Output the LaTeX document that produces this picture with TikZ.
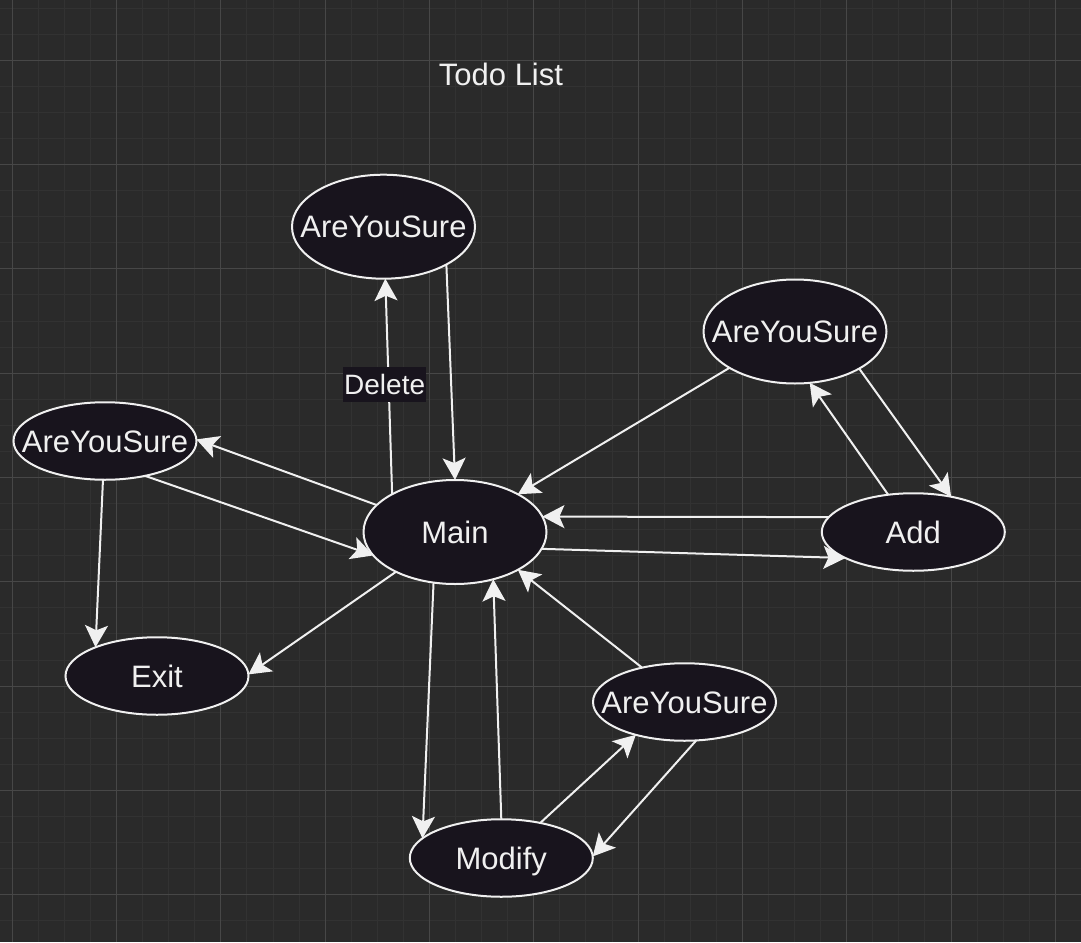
\documentclass[tikz,border=0pt]{standalone}
\usepackage{fontspec}
\setmainfont{Liberation Sans}
\usetikzlibrary{arrows.meta,shapes.geometric}
\definecolor{bg}{HTML}{2A2A2A}
\definecolor{gminor}{HTML}{323232}
\definecolor{gmajor}{HTML}{474747}
\definecolor{nfill}{HTML}{18141D}
\definecolor{fg}{HTML}{F0F0F0}
\newcommand\lbltxt[1]{\makebox[0pt]{#1}}
\begin{document}
\begin{tikzpicture}[x=1pt,y=-1pt,
  stnode/.style={ellipse, draw=fg, line width=2pt, fill=nfill, text=fg,
    inner sep=0pt, outer sep=0pt, font=\fontsize{31}{37}\selectfont,
    text height=22pt, text depth=0pt, minimum width=183pt},
  tallnode/.style={minimum height=104pt},
  shortnode/.style={minimum height=77.5pt},
  conn/.style={draw=fg, line width=2pt, -{Stealth[length=22pt,width=23pt,inset=5pt]}},
  edgelbl/.style={fill=nfill, text=fg, inner sep=0pt, minimum width=83pt,
    minimum height=35pt, font=\fontsize{28}{34}\selectfont, text height=20pt, text depth=0pt},
  minorline/.style={draw=gminor, line width=1pt},
  majorline/.style={draw=gmajor, line width=1pt}]
\useasboundingbox (0,0) rectangle (1081,942);
\fill[bg] (0,0) rectangle (1081,942);
% grid
\foreach \i in {-1,...,41} \draw[minorline] ({12.3+\i*26.075},0) -- ({12.3+\i*26.075},942);
\foreach \i in {-3,...,34} \draw[minorline] (0,{60.3+\i*26.075}) -- (1081,{60.3+\i*26.075});
\foreach \i in {0,...,10} \draw[majorline] ({12.3+\i*104.3},0) -- ({12.3+\i*104.3},942);
\foreach \i in {-1,...,8} \draw[majorline] (0,{60.3+\i*104.3}) -- (1081,{60.3+\i*104.3});
% title
\node[text=fg, font=\fontsize{31}{37}\selectfont, text height=22pt, text depth=0pt, inner sep=0pt]
  (title) at (501,74.5) {Todo List};
% nodes
\node[stnode,tallnode] (main) at (455,532) {\lbltxt{Main}};
\node[stnode,tallnode] (ayT) at (383.5,226.7) {\lbltxt{AreYouSure}};
\node[stnode,tallnode] (ayR) at (795,331.5) {\lbltxt{AreYouSure}};
\node[stnode,shortnode] (ayL) at (105,441) {\lbltxt{AreYouSure}};
\node[stnode,shortnode] (exit) at (157,676) {\lbltxt{Exit}};
\node[stnode,shortnode] (add) at (913.3,532) {\lbltxt{Add}};
\node[stnode,shortnode] (ayB) at (684.5,702) {\lbltxt{AreYouSure}};
\node[stnode,shortnode] (modify) at (501.3,858) {\lbltxt{Modify}};
% connectors
\draw[conn] (main.149) -- node[edgelbl, pos=0.51, xshift=-4pt] (dl) {Delete} (ayT.-88);
\draw[conn] (ayT.-31) -- (main.90);
\draw[conn] (main.161) -- (ayL.1);
\draw[conn] (ayL.-41) -- (main.196);
\draw[conn] (ayL.-93) -- (exit.155);
\draw[conn] (main.214) -- (exit.1);
\draw[conn] (ayR.209) -- (main.31);
\draw[conn] (add.170) -- (main.10);
\draw[conn] (main.-11) -- (add.201);
\draw[conn] (add.124) -- (ayR.-74);
\draw[conn] (ayR.-30) -- (add.43);
\draw[conn] (main.247) -- (modify.166);
\draw[conn] (modify.90) -- (main.-51);
\draw[conn] (ayB.141) -- (main.-31);
\draw[conn] (modify.42) -- (ayB.214);
\draw[conn] (ayB.-73) -- (modify.1);
\end{tikzpicture}
\end{document}
